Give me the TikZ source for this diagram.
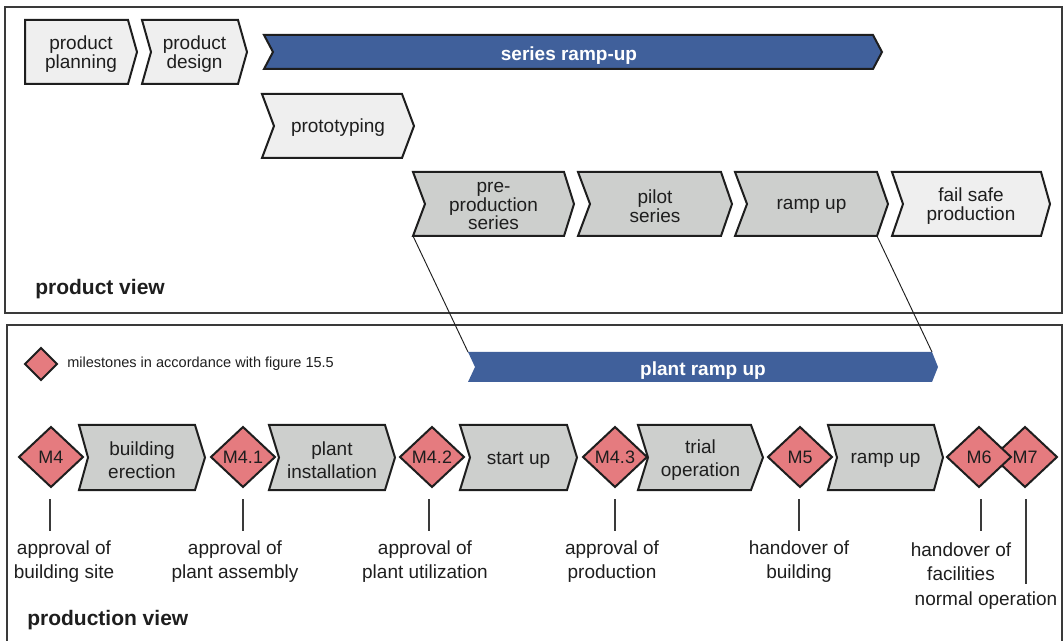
\documentclass[tikz,border=0pt]{standalone}
\usepackage{fontspec}
\setmainfont{Liberation Sans}
\definecolor{barblue}{HTML}{40609B}
\definecolor{stagegrey}{HTML}{CDCFCD}
\definecolor{stagelight}{HTML}{EFEFEF}
\definecolor{msred}{HTML}{E57B7F}
\definecolor{inkdark}{HTML}{1E1E1E}
\definecolor{framegrey}{HTML}{3A3A3A}

% chevron: name, path style, left x, tip x, top y, bottom y, notch depth, tip depth, text
\newcommand\chevshape[9]{%
  \path[#2] (#3,#5) -- ({#4-#8},#5) -- (#4,{(#5+#6)/2}) -- ({#4-#8},#6)
    -- (#3,#6) -- ({#3+#7},{(#5+#6)/2}) -- cycle;
  \coordinate (#1-tl) at (#3,#5);
  \coordinate (#1-bl) at (#3,#6);
  \coordinate (#1-tr) at ({#4-#8},#5);
  \coordinate (#1-br) at ({#4-#8},#6);
  \node[chevtext] (#1) at ({(#3+#4)/2},{(#5+#6)/2}) {#9};
}
% milestone diamond: name, centre x, centre y, text
\newcommand\milestone[4]{%
  \path[msshape] ({#2-32},#3) -- (#2,{#3-30}) -- ({#2+32},#3) -- (#2,{#3+30}) -- cycle;
  \node[mstext] (#1) at (#2,#3) {#4};
}
% vertical tick under a milestone: name, x, lower end y
\newcommand\mstick[3]{%
  \coordinate (#1-a) at (#2,499);
  \coordinate (#1-b) at (#2,#3);
  \draw[tick] (#1-a) -- (#1-b);
}

\begin{document}
\begin{tikzpicture}[x=0.75pt,y=-0.75pt,
  outline/.style={draw=inkdark, line width=1.5pt, line join=miter},
  lightstage/.style={outline, fill=stagelight},
  greystage/.style={outline, fill=stagegrey},
  bluestage/.style={outline, fill=barblue},
  blueplain/.style={fill=barblue},
  msshape/.style={outline, fill=msred},
  frame/.style={draw=framegrey, line width=0.9pt},
  tick/.style={draw=framegrey, line width=0.8pt},
  link/.style={draw=inkdark, line width=0.7pt},
  chevtext/.style={font=\fontsize{14.25}{14}\selectfont, align=center, text=inkdark, inner sep=0pt, yshift=-1.5pt},
  bartext/.style={font=\fontsize{14.25}{14}\bfseries\selectfont, text=white, inner sep=0pt, yshift=-2.5pt},
  mstext/.style={font=\fontsize{13.5}{14}\selectfont, text=inkdark, inner sep=0pt},
  lbl/.style={font=\fontsize{14.25}{18}\selectfont, align=center, text=inkdark, inner sep=0pt},
  viewtitle/.style={font=\fontsize{15.75}{18}\bfseries\selectfont, text=inkdark, anchor=west, inner sep=0pt},
  legendtext/.style={font=\fontsize{10.9}{12}\selectfont, text=inkdark, anchor=west, inner sep=0pt}
]
\useasboundingbox (0,0) rectangle (1064,641);

% panels
\draw[frame] (5,7) rectangle (1062,313);
\draw[frame] (7,325) rectangle (1062,660);

% product view
\chevshape{planning}{lightstage}{25}{137}{20}{84}{0}{9}{product\\planning}
\chevshape{design}{lightstage}{142}{247}{20}{84}{9}{9}{product\\design}
\chevshape{proto}{lightstage}{262}{414}{94}{158}{12}{12}{prototyping}
\chevshape{preprod}{greystage}{413}{574}{172}{236}{12}{10}{pre-\\production\\series}
\chevshape{pilot}{greystage}{578}{732}{172}{236}{12}{11}{pilot\\series}
\chevshape{rampup}{greystage}{735}{888}{172}{236}{12}{11}{ramp up}
\chevshape{failsafe}{lightstage}{892}{1050}{172}{236}{11}{9}{fail safe\\production}
\begin{scope}[chevtext/.style={bartext, xshift=-3pt}]
  \chevshape{series}{bluestage}{264}{882}{35}{69}{9}{9}{series ramp-up}
\end{scope}
\node[viewtitle] (pview) at (35,289) {product view};

% production view
\node[legendtext] (legend) at (67,364) {milestones in accordance with figure 15.5};
\path[msshape] (25,364) -- (41,348) -- (57,364) -- (41,380) -- cycle;
\coordinate (legendmark) at (41,364);

\begin{scope}[chevtext/.style={bartext}]
  \chevshape{plant}{blueplain}{468}{938}{352}{382}{7}{6}{plant ramp up}
\end{scope}
\draw[link] (preprod-bl) -- (plant-tl);
\draw[link] (rampup-br) -- (plant-tr);

\begin{scope}[chevtext/.style={font=\fontsize{14.25}{17.25}\selectfont, align=center, text=inkdark, inner sep=0pt, yshift=-2.25pt}]
  \chevshape{erection}{greystage}{79}{205}{425}{490}{9}{10}{building\\erection}
  \chevshape{install}{greystage}{269}{395}{425}{490}{10}{10}{plant\\installation}
  \chevshape{startup}{greystage}{460}{577}{425}{490}{10}{10}{start up}
  \chevshape{trial}{greystage}{638}{763}{425}{490}{10}{12}{trial\\operation}
  \chevshape{ramp}{greystage}{828}{943}{425}{490}{9}{9}{ramp up}
\end{scope}

\milestone{m4}{51}{457}{M4}
\milestone{m41}{243}{457}{M4.1}
\milestone{m42}{432}{457}{M4.2}
\milestone{m43}{615}{457}{M4.3}
\milestone{m5}{800}{457}{M5}
\milestone{m7}{1025}{457}{M7}
\milestone{m6}{979}{457}{M6}

\mstick{t4}{50}{531}
\mstick{t41}{243}{531}
\mstick{t42}{429}{531}
\mstick{t43}{615}{531}
\mstick{t5}{799}{531}
\mstick{t6}{981}{531}
\mstick{t7}{1026}{584}

\node[lbl] (l4) at (64,562) {approval of\\building site};
\node[lbl] (l41) at (235,562) {approval of\\plant assembly};
\node[lbl] (l42) at (425,562) {approval of\\plant utilization};
\node[lbl] (l43) at (612,562) {approval of\\production};
\node[lbl] (l5) at (799,562) {handover of\\building};
\node[lbl] (l6) at (961,562) {handover of\\facilities};
\node[lbl] (l7) at (986,601) {normal operation};

\node[viewtitle] (prodview) at (27,620) {production view};
\end{tikzpicture}
\end{document}
